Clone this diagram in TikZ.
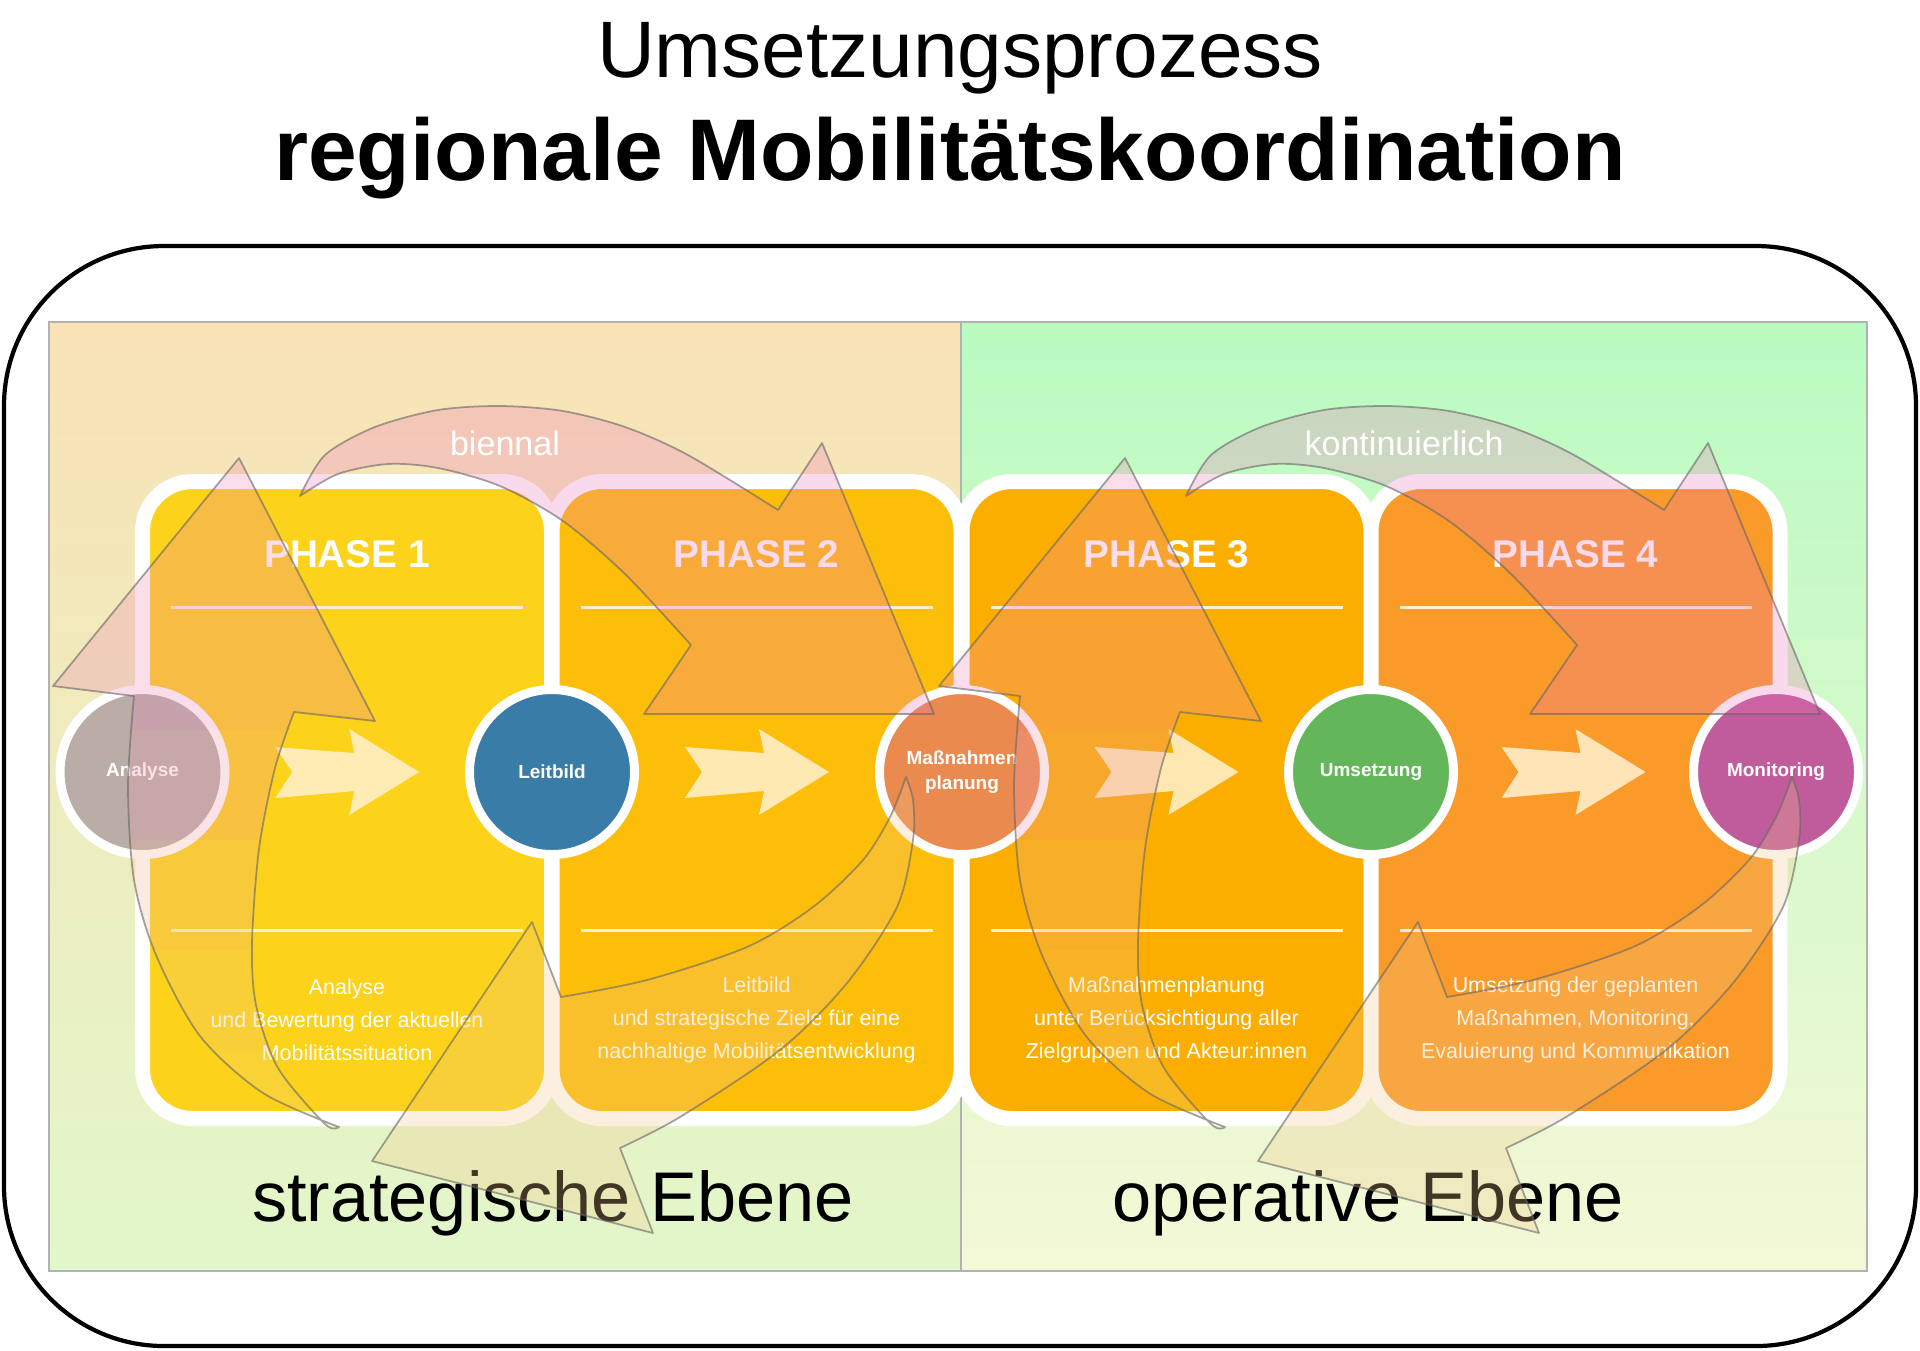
\documentclass[tikz,border=0pt]{standalone}
\usepackage{fontspec}
\setmainfont{Liberation Sans}
\usetikzlibrary{calc}

\definecolor{peach}{RGB}{249,226,181}
\definecolor{lgreen}{RGB}{226,247,202}
\definecolor{mint}{RGB}{185,251,192}
\definecolor{pale}{RGB}{244,248,214}
\definecolor{ph1}{RGB}{252,210,26}
\definecolor{ph2}{RGB}{253,190,10}
\definecolor{ph3}{RGB}{252,174,0}
\definecolor{ph4}{RGB}{250,154,40}
\definecolor{cana}{RGB}{186,173,168}
\definecolor{cleit}{RGB}{58,124,168}
\definecolor{cmass}{RGB}{234,138,78}
\definecolor{cums}{RGB}{100,182,90}
\definecolor{cmon}{RGB}{192,92,155}
\definecolor{cream}{RGB}{255,241,208}
\definecolor{rose}{RGB}{235,120,190}
\definecolor{lyel}{RGB}{245,225,120}

\begin{document}
\begin{tikzpicture}[
  panel/.style={draw=black!30,line width=0.4pt,inner sep=0pt,minimum height=9.49cm},
  card/.style={draw=white,line width=0.15cm,rounded corners=0.5cm,minimum width=4.09cm,minimum height=6.37cm,inner sep=0pt},
  dot/.style={circle,draw=white,line width=0.09cm,minimum size=1.65cm,inner sep=0pt,text=white,align=center,
    font=\fontsize{5.4}{7.3}\selectfont\bfseries},
  hd/.style={text=white,anchor=base,font=\fontsize{11}{13}\selectfont\bfseries},
  txt/.style={text=white,align=center,font=\fontsize{6.1}{9.4}\selectfont},
  rule/.style={cream,line width=0.85pt},
  lab/.style={text=white,font=\fontsize{9.7}{11}\selectfont},
  lvl/.style={anchor=base,font=\fontsize{20}{24}\selectfont},
  outl/.style={draw=black!60,draw opacity=0.6,line width=0.5pt,line join=round},
  tint/.style={fill=#1,fill opacity=0.27},
  upArr/.style={insert path={
    plot[smooth] coordinates {(3.39,-11.27) (2.63,-10.93) (2.00,-10.36) (1.56,-9.55) (1.34,-8.80) (1.28,-7.86) (1.34,-6.96)}
    -- (0.53,-6.86) -- (2.39,-4.58) -- (3.75,-7.21) -- (2.94,-7.12)
    -- plot[smooth] coordinates {(2.94,-7.12) (2.75,-7.68) (2.59,-8.49) (2.52,-9.43) (2.56,-10.05) (2.78,-10.68) (3.25,-11.24) (3.39,-11.27)} -- cycle}},
  chev/.pic={\fill[cream,opacity=0.85] (-0.72,0.25) -- (0.07,0.19) -- (0.02,0.43) -- (0.72,0) -- (0.02,-0.43)
    -- (0.07,-0.19) -- (-0.72,-0.26) -- (-0.55,0) -- cycle;},
  cyc/.pic={
    \begin{scope}
      \clip[upArr];
      \fill[tint=rose!90!lyel] (0,-4.4) rectangle (4,-7.3);
      \fill[tint=rose!70!lyel] (0,-7.3) rectangle (4,-8.4);
      \fill[tint=rose!45!lyel] (0,-8.4) rectangle (4,-9.5);
      \fill[tint=rose!25!lyel] (0,-9.5) rectangle (4,-10.5);
      \fill[tint=rose!10!lyel] (0,-10.5) rectangle (4,-11.4);
    \end{scope}
    \path[outl,upArr];
    \filldraw[outl,tint=rose]
      plot[smooth] coordinates {(3.00,-4.96) (3.25,-4.55) (3.75,-4.27) (4.38,-4.10) (5.00,-4.06) (5.63,-4.11) (6.25,-4.27) (6.88,-4.55) (7.78,-5.10)}
      -- (8.22,-4.43) -- (9.34,-7.14) -- (6.44,-7.14) -- (6.91,-6.45)
      -- plot[smooth] coordinates {(6.91,-6.45) (6.25,-5.74) (5.63,-5.21) (5.00,-4.86) (4.38,-4.68) (3.88,-4.64) (3.38,-4.74) (3.00,-4.96)} -- cycle;
    \filldraw[outl,tint=rose!25!lyel]
      plot[smooth] coordinates {(9.06,-7.77) (8.90,-8.17) (8.63,-8.60) (8.13,-9.07) (7.47,-9.47) (6.47,-9.80) (5.61,-9.97)}
      -- (5.32,-9.22) -- (3.72,-11.61) -- (6.53,-12.33) -- (6.20,-11.48)
      -- plot[smooth] coordinates {(6.20,-11.48) (6.80,-11.17) (7.80,-10.50) (8.47,-9.83) (8.97,-9.07) (9.13,-8.40) (9.13,-8.00) (9.06,-7.77)} -- cycle;
  }]
\useasboundingbox (0,0) rectangle (19.2,-13.5);
\fill[white] (0,0) rectangle (19.2,-13.5);

\node[anchor=base,font=\fontsize{22.8}{26}\selectfont] (t1) at (9.60,-0.77) {Umsetzungsprozess};
\node[anchor=base,font=\fontsize{24.9}{28}\selectfont\bfseries] (t2) at (9.50,-1.80) {regionale Mobilitätskoordination};

\draw[line width=1.2pt,rounded corners=1.6cm] (0.04,-2.46) rectangle (19.16,-13.46);

\node[panel,top color=peach,bottom color=lgreen,minimum width=9.12cm] (strat) at (5.05,-7.965) {};
\node[panel,top color=mint,bottom color=pale,minimum width=9.06cm] (oper) at (14.14,-7.965) {};

\node[card,fill=ph1] (p1) at (3.47,-8.0) {};
\node[card,fill=ph2] (p2) at (7.565,-8.0) {};
\node[card,fill=ph3] (p3) at (11.665,-8.0) {};
\node[card,fill=ph4] (p4) at (15.755,-8.0) {};

\node[hd] (h1) at (3.47,-5.67) {PHASE 1};
\node[hd] (h2) at (7.565,-5.67) {PHASE 2};
\node[hd] (h3) at (11.665,-5.67) {PHASE 3};
\node[hd] (h4) at (15.755,-5.67) {PHASE 4};

\draw[rule] ($(p1)+(-1.76,1.93)$) -- ($(p1)+(1.76,1.93)$); \draw[rule] ($(p1)+(-1.76,-1.30)$) -- ($(p1)+(1.76,-1.30)$);
\draw[rule] ($(p2)+(-1.76,1.93)$) -- ($(p2)+(1.76,1.93)$); \draw[rule] ($(p2)+(-1.76,-1.30)$) -- ($(p2)+(1.76,-1.30)$);
\draw[rule] ($(p3)+(-1.76,1.93)$) -- ($(p3)+(1.76,1.93)$); \draw[rule] ($(p3)+(-1.76,-1.30)$) -- ($(p3)+(1.76,-1.30)$);
\draw[rule] ($(p4)+(-1.76,1.93)$) -- ($(p4)+(1.76,1.93)$); \draw[rule] ($(p4)+(-1.76,-1.30)$) -- ($(p4)+(1.76,-1.30)$);

\node[txt] (d1) at (3.47,-10.20) {Analyse\\und Bewertung der aktuellen\\Mobilitätssituation};
\node[txt] (d2) at (7.565,-10.20) {Leitbild\\und strategische Ziele für eine\\nachhaltige Mobilitätsentwicklung};
\node[txt] (d3) at (11.665,-10.20) {Maßnahmenplanung\\unter Berücksichtigung aller\\Zielgruppen und Akteur:innen};
\node[txt] (d4) at (15.755,-10.20) {Umsetzung der geplanten\\Maßnahmen, Monitoring,\\Evaluierung und Kommunikation};

\node[dot,fill=cana] (ana) at (1.425,-7.72) {Analyse};
\node[dot,fill=cleit] (leit) at (5.52,-7.72) {Leitbild};
\node[dot,fill=cmass] (mass) at (9.62,-7.72) {Maßnahmen\\planung};
\node[dot,fill=cums] (ums) at (13.71,-7.72) {Umsetzung};
\node[dot,fill=cmon] (mon) at (17.76,-7.72) {Monitoring};

\pic at ($(ana)!0.5!(leit)$) {chev};
\pic at ($(leit)!0.5!(mass)$) {chev};
\pic at ($(mass)!0.5!(ums)$) {chev};
\pic at ($(ums)!0.5!(mon)$) {chev};

\node[lvl] (l1) at (5.53,-12.21) {strategische Ebene};
\node[lvl] (l2) at (13.68,-12.21) {operative Ebene};

\pic at (0,0) {cyc};
\pic at (8.86,0) {cyc};

\node[lab] (bien) at (5.05,-4.43) {biennal};
\node[lab] (kont) at (14.04,-4.43) {kontinuierlich};
\end{tikzpicture}
\end{document}
